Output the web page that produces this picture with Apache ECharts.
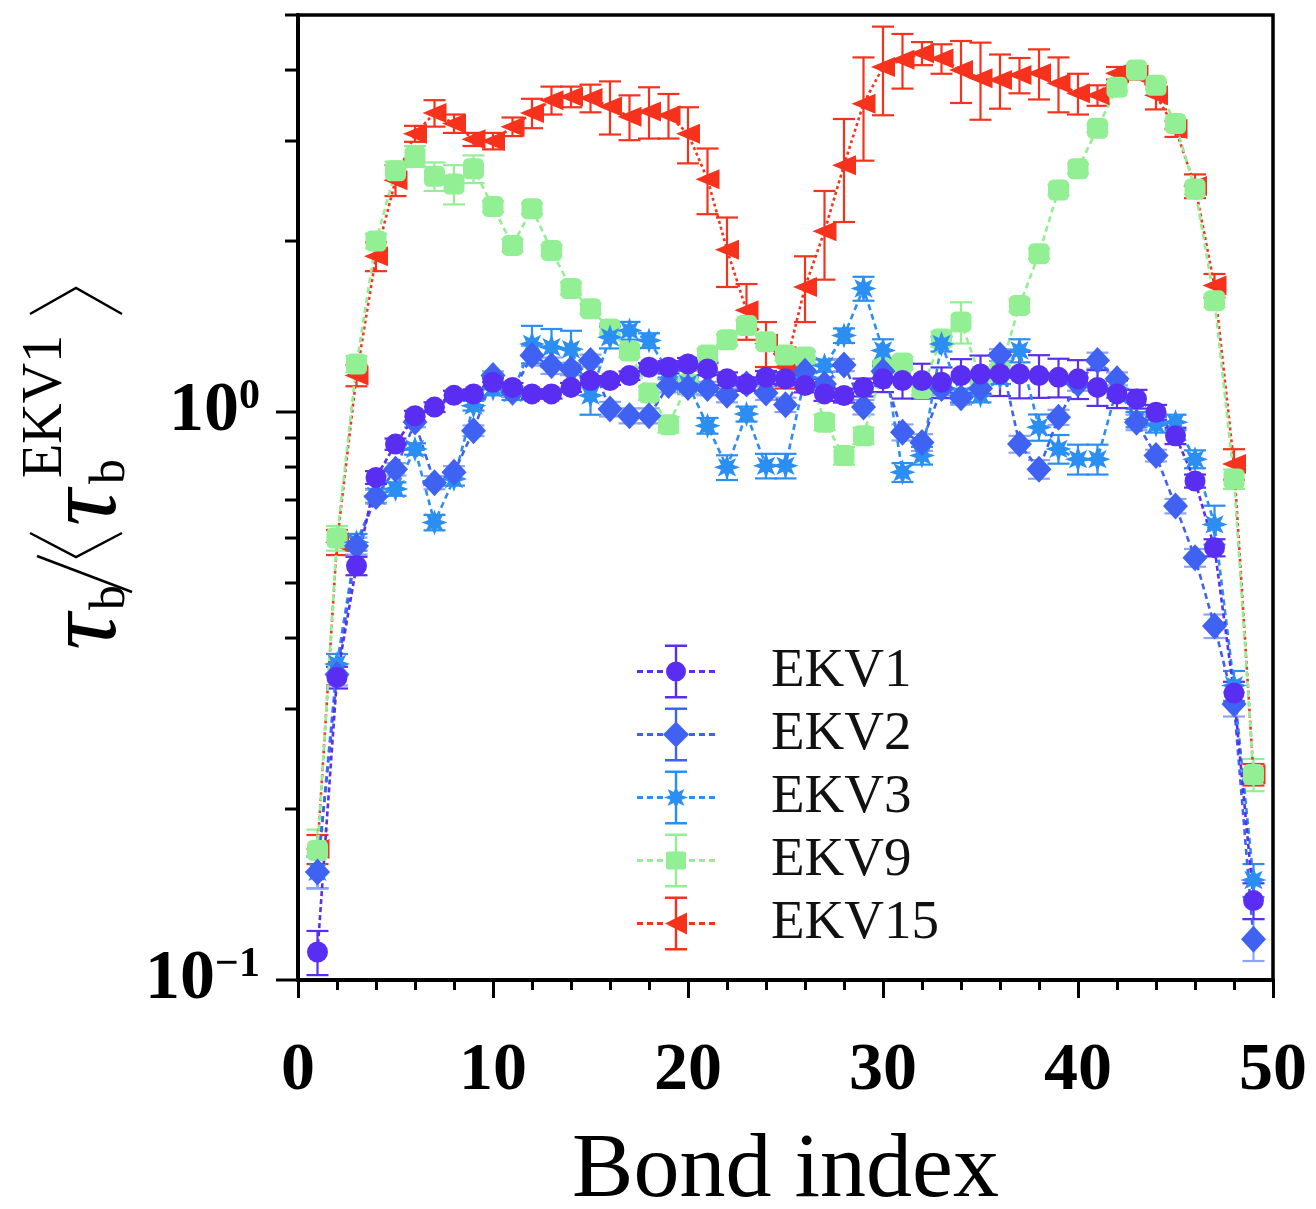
<!DOCTYPE html>
<html>
<head>
<meta charset="utf-8">
<title>Bond index</title>
<script src="https://cdn.jsdelivr.net/npm/echarts@6.0.0/dist/echarts.min.js"></script>
<style>
html, body { margin: 0; padding: 0; background: #fff; }
#chart { width: 1316px; height: 1209px; }
</style>
</head>
<body>
<div id="chart"></div>
<script>
// bond index on x, tau_b / <tau_b^EKV1> on log y
const bonds = [1,2,3,4,5,6,7,8,9,10,11,12,13,14,15,16,17,18,19,20,21,22,23,24,25,
  26,27,28,29,30,31,32,33,34,35,36,37,38,39,40,41,42,43,44,45,46,47,48,49];

const ekv1 = [0.112,0.341,0.536,0.767,0.878,0.985,1.02,1.07,1.076,1.128,
  1.105,1.076,1.076,1.105,1.136,1.136,1.159,1.199,1.199,1.215,
  1.191,1.144,1.12,1.151,1.144,1.113,1.076,1.069,1.105,1.144,
  1.136,1.136,1.128,1.159,1.167,1.167,1.167,1.159,1.151,1.144,
  1.105,1.076,1.054,0.999,0.908,0.756,0.577,0.32,0.138];
const ekv1Err = [0.01,0.015,0.02,0.02,0.02,0.02,0.02,0.02,0.02,0.02,
  0.02,0.02,0.02,0.02,0.02,0.02,0.02,0.02,0.03,0.03,
  0.03,0.03,0.03,0.03,0.03,0.03,0.03,0.03,0.04,0.06,
  0.08,0.08,0.07,0.08,0.09,0.1,0.11,0.1,0.09,0.09,
  0.08,0.06,0.04,0.03,0.03,0.02,0.02,0.015,0.01];

const ekv2 = [0.155,0.345,0.581,0.71,0.793,0.96,0.751,0.783,0.927,1.159,
  1.083,1.257,1.207,1.191,1.232,1.012,0.985,0.985,1.113,1.105,
  1.1,1.07,1.12,1.08,1.03,1.18,1.12,1.21,1.02,1.18,
  0.921,0.884,1.1,1.06,1.1,1.26,0.878,0.793,0.979,1.12,
  1.232,1.144,0.959,0.838,0.683,0.554,0.42,0.306,0.118];
const ekv2Err = [0.01,0.015,0.02,0.02,0.02,0.02,0.02,0.02,0.02,0.02,
  0.02,0.05,0.04,0.03,0.03,0.03,0.03,0.03,0.03,0.03,
  0.03,0.03,0.03,0.03,0.03,0.03,0.03,0.03,0.03,0.03,
  0.03,0.03,0.03,0.03,0.03,0.03,0.03,0.03,0.03,0.03,
  0.04,0.03,0.03,0.02,0.02,0.02,0.02,0.015,0.01];

const ekv3 = [0.155,0.36,0.59,0.712,0.732,0.861,0.639,0.762,1.026,1.1,
  1.08,1.318,1.30,1.29,1.069,1.354,1.391,1.336,1.18,1.12,
  0.946,0.799,0.992,0.804,0.804,1.15,1.207,1.363,1.65,1.283,
  0.783,0.838,1.318,1.069,1.07,1.15,1.283,0.94,0.861,0.826,
  0.826,1.1,0.97,0.95,0.959,0.826,0.634,0.33,0.15];
const ekv3Err = [0.01,0.015,0.02,0.02,0.02,0.02,0.02,0.02,0.02,0.03,
  0.03,0.1,0.1,0.1,0.08,0.06,0.05,0.04,0.03,0.03,
  0.03,0.04,0.03,0.04,0.04,0.03,0.03,0.04,0.08,0.06,
  0.03,0.03,0.04,0.03,0.03,0.03,0.06,0.05,0.05,0.05,
  0.05,0.04,0.03,0.03,0.03,0.03,0.05,0.02,0.01];

const ekv9 = [0.169,0.60,1.215,2.0,2.66,2.82,2.6,2.52,2.68,2.30,
  1.965,2.28,1.925,1.65,1.52,1.4,1.28,1.08,0.95,1.12,
  1.26,1.34,1.42,1.33,1.26,1.25,0.959,0.838,0.908,1.2,
  1.22,1.1,1.345,1.44,1.15,1.18,1.54,1.9,2.46,2.68,
  3.16,3.73,4.0,3.76,3.22,2.47,1.57,0.762,0.23];
const ekv9Err = [0.015,0.03,0.04,0.06,0.1,0.12,0.15,0.2,0.15,0.05,
  0.05,0.05,0.04,0.04,0.03,0.03,0.03,0.03,0.03,0.03,
  0.03,0.03,0.03,0.03,0.03,0.03,0.03,0.03,0.03,0.03,
  0.03,0.03,0.04,0.12,0.03,0.03,0.04,0.04,0.05,0.05,
  0.05,0.06,0.06,0.06,0.06,0.05,0.04,0.03,0.015];

const ekv15 = [0.17,0.59,1.16,1.88,2.56,3.09,3.36,3.22,3.02,3.0,
  3.18,3.36,3.54,3.59,3.57,3.45,3.31,3.38,3.33,3.09,
  2.57,1.93,1.51,1.32,1.2,1.66,2.08,2.72,3.49,4.05,
  4.17,4.28,4.19,4.0,3.87,3.84,3.92,3.95,3.79,3.64,
  3.61,3.95,3.93,3.61,3.15,2.5,1.67,0.81,0.23];
const ekv15Err = [0.01,0.03,0.05,0.11,0.16,0.1,0.18,0.12,0.08,0.1,
  0.12,0.2,0.2,0.15,0.2,0.37,0.3,0.35,0.3,0.35,
  0.34,0.27,0.17,0.12,0.1,0.22,0.37,0.56,0.72,0.72,
  0.46,0.2,0.25,0.5,0.6,0.42,0.28,0.4,0.42,0.3,
  0.15,0.1,0.08,0.2,0.1,0.12,0.08,0.05,0.01];

const xTickLabels = [0, 10, 20, 30, 40, 50];
const yMajorTicks = [0.1, 1];
const yMinorTicks = [0.2, 0.3, 0.4, 0.5, 0.6, 0.7, 0.8, 0.9, 2, 3, 4, 5];

const X_MIN = 0, X_MAX = 50, Y_MIN = 0.1, Y_MAX = 5;
const serif = 'Liberation Serif';

// burst-like star used by EKV3
function starPath(cx, cy, r1, r2, n) {
  let d = '';
  for (let k = 0; k < 2 * n; k++) {
    const a = -Math.PI / 2 + k * Math.PI / n;
    const r = k % 2 ? r2 : r1;
    d += (k ? 'L' : 'M') + (cx + r * Math.cos(a)).toFixed(2) + ',' + (cy + r * Math.sin(a)).toFixed(2);
  }
  return d + 'Z';
}

// legend icon: dashed line + error bar + marker, box 78 x 54, all clockwise
function legendIcon(marker) {
  const dash = 'M0,25.5H6V28.5H0Z M10,25.5H16V28.5H10Z M20,25.5H26V28.5H20Z ' +
    'M52,25.5H58V28.5H52Z M62,25.5H68V28.5H62Z M72,25.5H78V28.5H72Z ';
  const bar = 'M37.8,0H40.2V54H37.8Z M28,0H50V2.5H28Z M28,51.5H50V54H28Z ';
  return 'path://' + dash + bar + marker;
}
const legendMarkers = {
  EKV1: 'M29,27A10,10 0 1,1 49,27A10,10 0 1,1 29,27Z',
  EKV2: 'M39,14L52,27L39,40L26,27Z',
  EKV3: starPath(39, 27, 12, 6, 8),
  EKV9: 'M31,18H47A2,2 0 0,1 49,20V34A2,2 0 0,1 47,36H31A2,2 0 0,1 29,34V20A2,2 0 0,1 31,18Z',
  EKV15: 'M28,27L50,16L50,38Z'
};

const colors = {
  EKV1: '#5a2ef2',
  EKV2: '#3f62f2',
  EKV3: '#2b8ef2',
  EKV9: '#93ef93',
  EKV15: '#f7321c'
};

function errBar(params, api) {
  const x = api.value(0);
  const lo = api.coord([x, api.value(1)]);
  const hi = api.coord([x, api.value(2)]);
  const w = 11;
  const style = { stroke: api.visual('color'), lineWidth: 2.2 };
  return {
    type: 'group',
    children: [
      { type: 'line', shape: { x1: lo[0], y1: lo[1], x2: hi[0], y2: hi[1] }, style: style },
      { type: 'line', shape: { x1: lo[0] - w, y1: lo[1], x2: lo[0] + w, y2: lo[1] }, style: style },
      { type: 'line', shape: { x1: hi[0] - w, y1: hi[1], x2: hi[0] + w, y2: hi[1] }, style: style }
    ]
  };
}

function yTick(len) {
  return function (params, api) {
    const p = api.coord([X_MIN, api.value(0)]);
    return {
      type: 'line',
      shape: { x1: p[0] - len, y1: p[1], x2: p[0], y2: p[1] },
      style: { stroke: '#000', lineWidth: 3 }
    };
  };
}

function dataset(name, vals, errs, symbol, size, rotate, dash, errColor) {
  return [
    {
      name: name + ' err', type: 'custom', renderItem: errBar, silent: true,
      itemStyle: { color: errColor || colors[name] },
      encode: { x: 0, y: [1, 2] },
      data: bonds.map((b, i) => [b, vals[i] - errs[i], vals[i] + errs[i]]),
      z: 2
    },
    {
      name: name, type: 'line', data: bonds.map((b, i) => [b, vals[i]]),
      symbol: symbol, symbolSize: size, symbolRotate: rotate || 0,
      color: colors[name],
      itemStyle: { color: colors[name] },
      lineStyle: { color: colors[name], width: 2.6, type: dash },
      z: 2
    }
  ];
}

const chart = echarts.init(document.getElementById('chart'));

const option = {
  backgroundColor: '#fff',
  animation: false,
  grid: {
    left: 298, right: 43, top: 15, bottom: 229,
    show: true, borderColor: '#000', borderWidth: 3.5,
    outerBoundsMode: 'none'
  },
  legend: {
    data: ['EKV1', 'EKV2', 'EKV3', 'EKV9', 'EKV15'].map(n => ({ name: n, icon: legendIcon(legendMarkers[n]) })),
    orient: 'vertical',
    left: 632, top: 639,
    itemWidth: 78, itemHeight: 54, itemGap: 8,
    selectedMode: false,
    textStyle: { fontFamily: serif, fontSize: 55, color: '#111', padding: [0, 0, 0, 51] }
  },
  xAxis: {
    type: 'value', min: X_MIN, max: X_MAX, interval: 10,
    name: 'Bond index', nameLocation: 'middle', nameGap: 146,
    nameTextStyle: { fontFamily: serif, fontSize: 92, color: '#000' },
    axisLine: { onZero: false, lineStyle: { color: '#000', width: 4 } },
    axisTick: { length: 18, lineStyle: { color: '#000', width: 3 } },
    minorTick: { show: true, splitNumber: 5, length: 10, lineStyle: { color: '#000', width: 3 } },
    splitLine: { show: false },
    axisLabel: {
      margin: 57, fontFamily: serif, fontSize: 68, fontWeight: 'bold', color: '#000',
      formatter: v => (xTickLabels.indexOf(v) >= 0 ? String(v) : '')
    }
  },
  yAxis: {
    type: 'log', logBase: 10, min: Y_MIN, max: Y_MAX,
    axisLine: { lineStyle: { color: '#000', width: 4 } },
    axisTick: { show: false },
    splitLine: { show: false },
    axisLabel: {
      margin: 38, fontFamily: serif, fontSize: 70, fontWeight: 'bold', color: '#000',
      showMaxLabel: false, lineHeight: 72,
      formatter: function (v) {
        const p = Math.round(Math.log10(v));
        if (Math.abs(v - Math.pow(10, p)) > 1e-6 * v) return '';
        return '10{s|' + (p < 0 ? '\u2212' + (-p) : p) + '}';
      },
      rich: {
        s: { fontFamily: serif, fontSize: 42, fontWeight: 'bold', color: '#000', verticalAlign: 'top', lineHeight: 42 }
      }
    }
  },
  series: [].concat(
    dataset('EKV15', ekv15, ekv15Err, 'triangle', [20, 24], 90, [3, 3]),
    dataset('EKV9', ekv9, ekv9Err, 'roundRect', 21, 0, [6, 4]),
    dataset('EKV3', ekv3, ekv3Err, 'path://' + starPath(0, 0, 12, 6, 8), 26, 0, [6, 4]),
    dataset('EKV2', ekv2, ekv2Err, 'diamond', [25, 27], 0, [6, 4], '#8fa4f6'),
    dataset('EKV1', ekv1, ekv1Err, 'circle', 21, 0, [5, 3]),
    [
      { name: 'y major ticks', type: 'custom', silent: true, renderItem: yTick(22), data: yMajorTicks.map(v => [v]), encode: { y: 0 }, z: 10 },
      { name: 'y minor ticks', type: 'custom', silent: true, renderItem: yTick(13), data: yMinorTicks.map(v => [v]), encode: { y: 0 }, z: 10 }
    ]
  ),
  graphic: [{
    type: 'group', x: 0, y: 650, rotation: Math.PI / 2, silent: true,
    children: [
      { type: 'text', x: 0, y: 88, style: { text: '\u03c4', fontFamily: serif, fontStyle: 'italic', fontSize: 102, fill: '#000', align: 'left', verticalAlign: 'middle' } },
      { type: 'text', x: 40, y: 111, style: { text: 'b', fontFamily: serif, fontSize: 50, fill: '#000', align: 'left', verticalAlign: 'middle' } },
      { type: 'line', shape: { x1: 58, y1: 132, x2: 94, y2: 37 }, style: { stroke: '#000', lineWidth: 2.5 } },
      { type: 'polyline', shape: { points: [[117, 30], [93, 76], [117, 122]] }, style: { stroke: '#000', lineWidth: 2.5, fill: null } },
      { type: 'text', x: 124, y: 88, style: { text: '\u03c4', fontFamily: serif, fontStyle: 'italic', fontSize: 102, fill: '#000', align: 'left', verticalAlign: 'middle' } },
      { type: 'text', x: 166, y: 111, style: { text: 'b', fontFamily: serif, fontSize: 50, fill: '#000', align: 'left', verticalAlign: 'middle' } },
      { type: 'text', x: 172, y: 46, style: { text: 'EKV1', fontFamily: serif, fontSize: 56, fill: '#000', align: 'left', verticalAlign: 'middle' } },
      { type: 'polyline', shape: { points: [[336, 30], [362, 76], [336, 122]] }, style: { stroke: '#000', lineWidth: 2.5, fill: null } }
    ]
  }]
};

chart.setOption(option);
</script>
</body>
</html>
